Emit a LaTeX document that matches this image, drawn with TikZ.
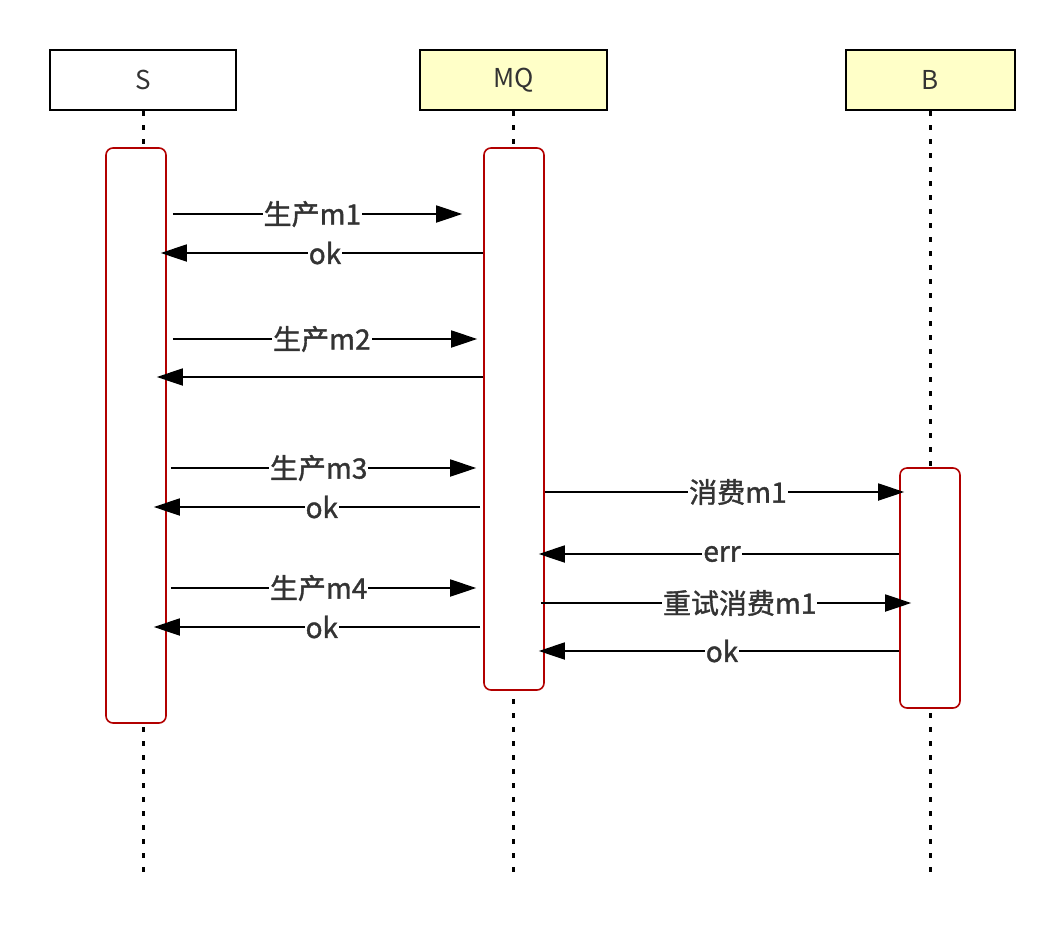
\documentclass[tikz,border=0pt]{standalone}
\usepackage{fontspec}
\setmainfont{Noto Sans CJK SC}
\newfontfamily\lblfont{Noto Sans CJK SC}[BoldFont={Noto Sans CJK SC}, BoldFeatures={FakeBold=1.3}]
\usetikzlibrary{arrows.meta}
\definecolor{txt}{HTML}{333333}
\definecolor{actred}{HTML}{B20000}
\definecolor{headyel}{HTML}{FFFFC8}
\begin{document}
\begin{tikzpicture}[x=1pt,y=-1pt,
 head/.style={draw=black, line width=2pt, minimum height=60pt, inner sep=0pt, font=\fontsize{26}{30}\selectfont, text=txt},
 act/.style={draw=actred, fill=white, line width=1.6pt, rounded corners=7pt, minimum width=60pt, inner sep=0pt},
 life/.style={line width=3pt, dash pattern=on 5pt off 9pt},
 msg/.style={line width=1.8pt, -{Triangle[length=26pt,width=17pt]}},
 lbl/.style={fill=white, inner sep=1pt, font=\lblfont\fontsize{28}{31}\selectfont\bfseries, text=txt}]
\useasboundingbox (0,0) rectangle (1064,930);
% headers
\node[head, fill=white, minimum width=186pt] (S) at (143,80) {S};
\node[head, fill=headyel, minimum width=187pt] (MQ) at (513.5,80) {MQ};
\node[head, fill=headyel, minimum width=169pt] (B) at (930.5,80) {B};
% lifeline ends
\coordinate (Send) at (143,880);
\coordinate (MQend) at (513.5,880);
\coordinate (Bend) at (930.5,880);
\draw[life] (S.south) -- (Send);
\draw[life] (MQ.south) -- (MQend);
\draw[life] (B.south) -- (Bend);
% activations
\node[act, minimum height=575pt] (aS) at (136,435.5) {};
\node[act, minimum height=542pt] (aM) at (514,419) {};
\node[act, minimum height=240pt] (aB) at (930,588) {};
% messages
\draw[msg, shorten <=6pt, shorten >=21pt] (aS.east |- 0,214) -- node[lbl, pos=.46] {生产m1} (aM.west |- 0,214);
\draw[msg, shorten >=-6pt] (aM.west |- 0,253) -- node[lbl, pos=.5] {ok} (aS.east |- 0,253);
\draw[msg, shorten <=6pt, shorten >=6pt] (aS.east |- 0,339) -- node[lbl, pos=.49] {生产m2} (aM.west |- 0,339);
\draw[msg, shorten >=-10pt] (aM.west |- 0,377) -- (aS.east |- 0,377);
\draw[msg, shorten <=4pt, shorten >=7pt] (aS.east |- 0,468) -- node[lbl, pos=.48] {生产m3} (aM.west |- 0,468);
\draw[msg, shorten <=3pt, shorten >=-13pt] (aM.west |- 0,507) -- node[lbl, pos=.51] {ok} (aS.east |- 0,507);
\draw[msg, shorten >=-5pt] (aM.east |- 0,492) -- node[lbl, pos=.545] {消费m1} (aB.west |- 0,492);
\draw[msg, shorten >=-6pt] (aB.west |- 0,554) -- node[lbl, pos=.5] {err} (aM.east |- 0,554);
\draw[msg, shorten <=4pt, shorten >=7pt] (aS.east |- 0,588) -- node[lbl, pos=.48] {生产m4} (aM.west |- 0,588);
\draw[msg, shorten <=-4pt, shorten >=-12pt] (aM.east |- 0,603) -- node[lbl, pos=.55] {重试消费m1} (aB.west |- 0,603);
\draw[msg, shorten <=3pt, shorten >=-13pt] (aM.west |- 0,627) -- node[lbl, pos=.51] {ok} (aS.east |- 0,627);
\draw[msg, shorten >=-6pt] (aB.west |- 0,651) -- node[lbl, pos=.5] {ok} (aM.east |- 0,651);
\end{tikzpicture}
\end{document}
